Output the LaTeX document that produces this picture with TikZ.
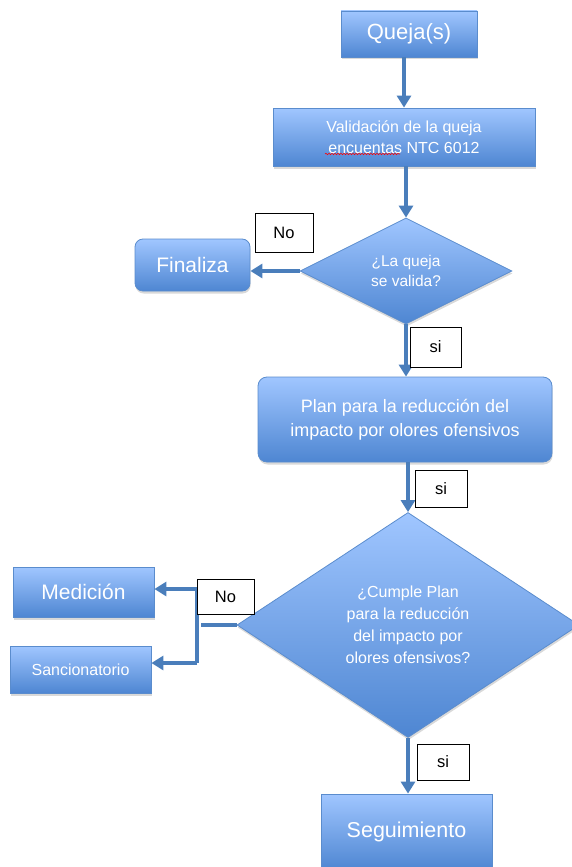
\documentclass[tikz,border=0pt]{standalone}
\usepackage{fontspec}
\setmainfont{Liberation Sans}
\usetikzlibrary{shapes.geometric,arrows.meta,shadows,decorations.pathmorphing}
\definecolor{lineblue}{RGB}{74,126,187}
\definecolor{topblue}{RGB}{160,198,255}
\definecolor{botblue}{RGB}{78,134,210}
\definecolor{edgeblue}{RGB}{90,140,205}
\tikzset{
 flow/.style={draw=edgeblue, line width=0.8pt, top color=topblue, bottom color=botblue, text=white, inner sep=0pt, align=center,
   drop shadow={shadow xshift=0.6pt, shadow yshift=-2.5pt, opacity=0.3}},
 boxr/.style={flow, rectangle},
 boxround/.style={flow, rectangle, rounded corners=9pt},
 decis/.style={flow, diamond, aspect=1.6},
 lab/.style={draw=black, line width=0.8pt, fill=white, inner sep=0pt, font=\fontsize{16.5}{19}\selectfont, text=black},
 conn/.style={draw=lineblue, line width=4.5pt},
 arr/.style={conn, -{Triangle[width=14pt,length=12pt]}},
}
\begin{document}
\begin{tikzpicture}[x=1pt,y=-1pt]
\useasboundingbox (0,0) rectangle (572,867);
% process nodes
\node[boxr, minimum width=136pt, minimum height=46pt, font=\fontsize{22}{26}\selectfont] (q) at (409,34) {Queja(s)};
\node[boxr, minimum width=262pt, minimum height=58pt, font=\fontsize{16}{21}\selectfont] (val) at (404,137) {Validación de la queja\\encuentas NTC 6012};
\node[decis, minimum width=212pt, minimum height=106pt, font=\fontsize{15.5}{20}\selectfont] (d1) at (406,271) {¿La queja\\se valida?};
\node[boxround, rounded corners=8pt, minimum width=115pt, minimum height=52pt, font=\fontsize{21}{25}\selectfont] (fin) at (192.5,265) {Finaliza};
\node[boxround, minimum width=294pt, minimum height=85pt, font=\fontsize{18}{24}\selectfont] (plan) at (405,419.5) {Plan para la reducción del\\impacto por olores ofensivos};
\node[decis, minimum width=342pt, minimum height=225pt, font=\fontsize{16}{22}\selectfont] (d2) at (408,625) {¿Cumple Plan\\para la reducción\\del impacto por\\olores ofensivos?};
\node[boxr, minimum width=141pt, minimum height=50pt, font=\fontsize{21}{25}\selectfont] (med) at (83.5,592) {Medición};
\node[boxr, minimum width=141pt, minimum height=47pt, font=\fontsize{16}{20}\selectfont] (san) at (80.5,669.5) {Sancionatorio};
\node[boxr, minimum width=171pt, minimum height=76pt, font=\fontsize{21.5}{25}\selectfont] (seg) at (406.5,832) {Seguimiento};
% spell-check underline
\draw[red, line width=0.6pt, decorate, decoration={snake, amplitude=0.7pt, segment length=3pt}] (325,154) -- (400,154);
% connectors
\draw[arr] (q.south -| val.north) -- (val.north);
\draw[arr] (val.south -| d1.north) -- (d1.north);
\draw[arr] (d1.west) -- (d1.west -| fin.east);
\draw[arr] (d1.south) -- (d1.south |- plan.north);
\draw[arr] (plan.south -| d2.north) -- (d2.north);
\draw[arr] (d2.south) -- (d2.south |- seg.north);
\coordinate (jm) at (201,625);
\coordinate (jt) at (197,589);
\coordinate (jb) at (197,663);
\draw[conn] (d2.west) -- (jm);
\draw[conn] (jt) -- (jb);
\draw[arr] (jt) -- (jt -| med.east);
\draw[arr] (jb) -- (jb -| san.east);
% labels
\node[lab, minimum width=58pt, minimum height=39pt] (no1) at (284,232.5) {No};
\node[lab, minimum width=51pt, minimum height=40pt] (si1) at (435.5,347) {si};
\node[lab, minimum width=52pt, minimum height=37pt] (si2) at (441,488.5) {si};
\node[lab, minimum width=57pt, minimum height=35pt] (no2) at (225.5,596.5) {No};
\node[lab, minimum width=52pt, minimum height=36pt] (si3) at (443,762) {si};
\end{tikzpicture}
\end{document}
